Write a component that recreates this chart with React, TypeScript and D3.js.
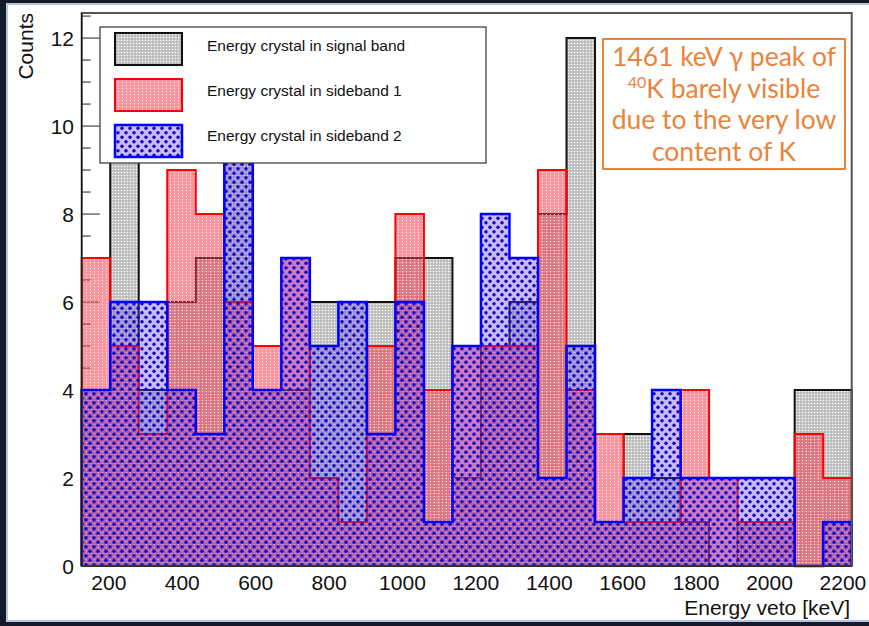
import React from 'react';
import * as d3 from 'd3';

// Histogram range and binning (keV)
const xMin = 126;
const xMax = 2224;
const nBins = 27;

// Counts per bin
const signalBand = [4, 10, 4, 6, 7, 10, 4, 4, 6, 6, 6, 7, 7, 2, 5, 6, 8, 12, 1, 3, 2, 1, 0, 1, 1, 4, 4];
const sideband1 = [7, 5, 3, 9, 8, 6, 5, 7, 2, 1, 5, 8, 4, 5, 5, 5, 9, 4, 3, 1, 1, 4, 2, 1, 1, 3, 2];
const sideband2 = [4, 6, 6, 4, 3, 10, 4, 7, 5, 6, 3, 6, 1, 5, 8, 7, 2, 5, 1, 2, 4, 2, 2, 2, 2, 0, 1];

const xTicks = [200, 400, 600, 800, 1000, 1200, 1400, 1600, 1800, 2000, 2200];
const yTicks = [0, 2, 4, 6, 8, 10, 12];
const yMinorTicks = d3.range(0, 12.6, 0.5);

const legendLabels = [
  'Energy crystal in signal band',
  'Energy crystal in sideband 1',
  'Energy crystal in sideband 2',
];

const W = 869;
const H = 626;

export default function App() {
  const left = 81.7, right = 851.7, top = 13, bottom = 566;
  const x = d3.scaleLinear().domain([xMin, xMax]).range([left, right]);
  const y = d3.scaleLinear().domain([0, 12.57]).range([bottom, top]);
  const bw = (xMax - xMin) / nBins;

  const stepPts = (vals: number[]) => {
    const pts: [number, number][] = [[x(xMin), y(0)]];
    vals.forEach((v, i) => {
      pts.push([x(xMin + i * bw), y(v)]);
      pts.push([x(xMin + (i + 1) * bw), y(v)]);
    });
    pts.push([x(xMax), y(0)]);
    return pts;
  };
  const line = d3.line();
  const fillPath = (vals: number[]) => line(stepPts(vals)) + 'Z';
  const outlinePath = (vals: number[]) => line(stepPts(vals)) as string;

  const series = [
    { vals: signalBand, fill: 'url(#pg)', stroke: '#111', sw: 2 },
    { vals: sideband1, fill: 'url(#pr)', stroke: '#ff0000', sw: 2 },
    { vals: sideband2, fill: 'url(#pb)', stroke: '#0000ff', sw: 2.5 },
  ];

  const font = '"Liberation Sans", Arial, Helvetica, sans-serif';

  return (
    <svg width={W} height={H} style={{ position: 'absolute', left: 0, top: 0 }}
      xmlns="http://www.w3.org/2000/svg">
      <defs>
        <pattern id="pg" width="3" height="3" patternUnits="userSpaceOnUse">
          <rect width="3" height="3" fill="#b8b8b8" />
          <rect x="0.75" y="0.75" width="1.5" height="1.5" fill="#ffffff" />
        </pattern>
        <pattern id="pr" width="4" height="3" patternUnits="userSpaceOnUse">
          <rect width="4" height="3" fill="rgba(245,50,70,0.52)" />
          <rect x="2" y="1" width="1" height="1.2" fill="rgba(255,255,255,0.85)" />
        </pattern>
        <pattern id="pb" width="8" height="9" patternUnits="userSpaceOnUse">
          <rect width="8" height="9" fill="rgba(100,50,255,0.34)" />
          <circle cx="2" cy="2.25" r="1.7" fill="#0a0ab8" />
          <circle cx="6" cy="6.75" r="1.7" fill="#0a0ab8" />
        </pattern>
      </defs>

      {/* page frame */}
      <rect x={0} y={0} width={W} height={H} fill="#141b29" />
      <rect x={6} y={3} width={W - 6} height={619} fill="#b4c6e2" />
      <rect x={8} y={5} width={W - 8} height={615} fill="#ffffff" />

      {/* axis ticks (drawn first, histograms overlay them as in ROOT "same") */}
      {yMinorTicks.map((t) => (
        <line key={'ym' + t} x1={left} x2={left + (t % 2 === 0 ? 18 : 9)} y1={y(t)} y2={y(t)}
          stroke="#222" strokeWidth={1} />
      ))}
      {xTicks.map((t) => (
        <line key={'xt' + t} x1={x(t)} x2={x(t)} y1={bottom} y2={bottom - 16} stroke="#222" strokeWidth={1} />
      ))}

      {/* histograms */}
      {series.map((s, i) => (
        <g key={i}>
          <path d={fillPath(s.vals)} fill={s.fill} stroke="none" />
          <path d={outlinePath(s.vals)} fill="none" stroke={s.stroke} strokeWidth={s.sw} strokeLinejoin="miter" />
        </g>
      ))}

      {/* frame */}
      <rect x={left} y={top} width={right - left} height={bottom - top} fill="none" stroke="#555" strokeWidth={2} />
      <line x1={left} x2={left} y1={top} y2={bottom} stroke="#111" strokeWidth={1.2} />
      <line x1={left} x2={right} y1={bottom} y2={bottom} stroke="#111" strokeWidth={1.2} />

      {/* tick labels */}
      {yTicks.map((t) => (
        <text key={'yl' + t} x={74} y={y(t) + 7.5} textAnchor="end" fontFamily={font} fontSize={21} fill="#111">{t}</text>
      ))}
      {xTicks.map((t) => (
        <text key={'xl' + t} x={x(t)} y={590} textAnchor="middle" fontFamily={font} fontSize={21} fill="#111">{t}</text>
      ))}

      {/* axis titles */}
      <text transform="translate(33,13) rotate(-90)" textAnchor="end" fontFamily={font} fontSize={21} fill="#111">Counts</text>
      <text x={850} y={615} textAnchor="end" fontFamily={font} fontSize={21} fill="#111">Energy veto [keV]</text>

      {/* legend */}
      <rect x={100} y={27} width={386} height={136} fill="#fff" stroke="#333" strokeWidth={1.2} />
      {legendLabels.map((lab, i) => (
        <g key={lab}>
          <rect x={115} y={33 + i * 46} width={67} height={32} fill={series[i].fill}
            stroke={series[i].stroke} strokeWidth={series[i].sw} />
          <text x={207} y={51 + i * 45} fontFamily={font} fontSize={15.5} fill="#111">{lab}</text>
        </g>
      ))}

      {/* annotation */}
      <rect x={603} y={39} width={242} height={130} fill="#fff" stroke="#e8843c" strokeWidth={2} />
      <g fontFamily="Lato, 'Open Sans', sans-serif" fontSize={26.5} fill="#e8843c" textAnchor="middle">
        <text x={724} y={66}>1461 keV γ peak of</text>
        <text x={724} y={98}><tspan fontSize={16} dy={-10}>40</tspan><tspan dy={10}>K barely visible</tspan></text>
        <text x={724} y={129}>due to the very low</text>
        <text x={724} y={161}>content of K</text>
      </g>
    </svg>
  );
}
